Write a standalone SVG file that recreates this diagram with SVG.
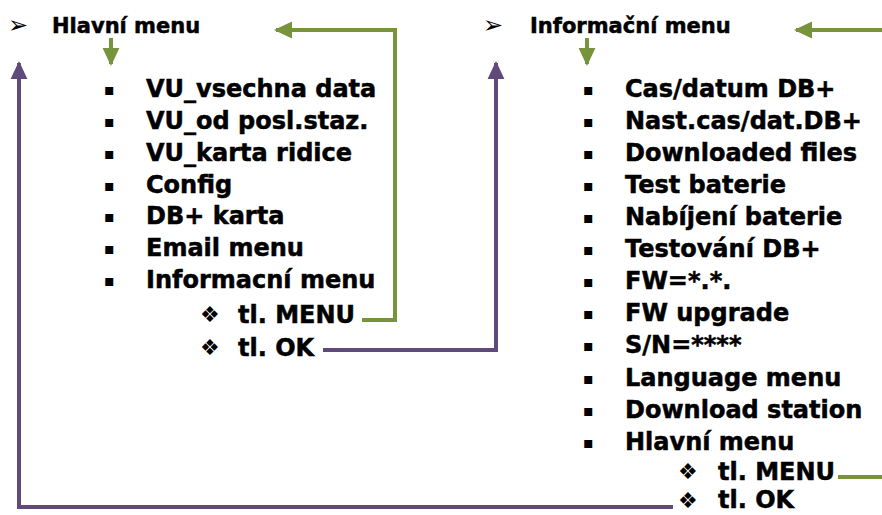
<svg xmlns="http://www.w3.org/2000/svg" width="882" height="515" viewBox="0 0 882 515">
<style>
.t{font-family:"DejaVu Sans","Liberation Sans",sans-serif;font-weight:bold;fill:#000;stroke:#000;stroke-width:0.5}
.h{font-size:21px}
.i{font-size:24px}
.b{font-family:"DejaVu Sans",sans-serif;fill:#000;font-size:22px}
.a{font-family:"DejaVu Sans",sans-serif;fill:#000;font-size:24px}
.sq{font-family:"DejaVu Sans",sans-serif;fill:#000;font-size:16px}
.g{fill:none;stroke:#77933C;stroke-width:4}
.p{fill:none;stroke:#604A7B;stroke-width:4}
</style>
<defs>
<marker id="ag" markerWidth="5" markerHeight="5" refX="4" refY="2.5" orient="auto" markerUnits="strokeWidth"><path d="M0,0.4 L4.5,2.5 L0,4.6 z" fill="#77933C"/></marker>
<marker id="ap" markerWidth="5" markerHeight="5" refX="4" refY="2.5" orient="auto" markerUnits="strokeWidth"><path d="M0,0.4 L4.5,2.5 L0,4.6 z" fill="#604A7B"/></marker>
</defs>
<g id="connectors">
<path class="g" d="M362,320 H395 V30 H276" marker-end="url(#ag)"/>
<path class="g" d="M111,38 V64" marker-end="url(#ag)"/>
<path class="g" d="M882,30 H796" marker-end="url(#ag)"/>
<path class="g" d="M587,38 V64" marker-end="url(#ag)"/>
<path class="g" d="M838,477 H882"/>
<path class="p" d="M323,350 H496 V63" marker-end="url(#ap)"/>
<path class="p" d="M673,507 H19 V63" marker-end="url(#ap)"/>
</g>
<g id="hlavni-menu">
<text class="a" x="8" y="33">➢</text>
<text class="t h" x="52" y="33">Hlavní menu</text>
</g>
<g id="hlavni-items">
<text class="sq" x="104" y="95">▪</text><text class="t i" x="146" y="97">VU_vsechna data</text>
<text class="sq" x="104" y="127">▪</text><text class="t i" x="146" y="129">VU_od posl.staz.</text>
<text class="sq" x="104" y="159">▪</text><text class="t i" x="146" y="161">VU_karta ridice</text>
<text class="sq" x="104" y="191">▪</text><text class="t i" x="146" y="193">Config</text>
<text class="sq" x="104" y="222">▪</text><text class="t i" x="146" y="224">DB+ karta</text>
<text class="sq" x="104" y="254">▪</text><text class="t i" x="146" y="256">Email menu</text>
<text class="sq" x="104" y="286">▪</text><text class="t i" x="146" y="288">Informacní menu</text>
</g>
<g id="hlavni-keys">
<text class="b" x="200" y="322">❖</text><text class="t i" x="238" y="323">tl. MENU</text>
<text class="b" x="200" y="355">❖</text><text class="t i" x="238" y="356">tl. OK</text>
</g>
<g id="informacni-menu">
<text class="a" x="483" y="33">➢</text>
<text class="t h" x="530" y="33">Informační menu</text>
</g>
<g id="informacni-items">
<text class="sq" x="583" y="95">▪</text><text class="t i" x="625" y="97">Cas/datum DB+</text>
<text class="sq" x="583" y="127">▪</text><text class="t i" x="625" y="129">Nast.cas/dat.DB+</text>
<text class="sq" x="583" y="159">▪</text><text class="t i" x="625" y="161">Downloaded files</text>
<text class="sq" x="583" y="191">▪</text><text class="t i" x="625" y="193">Test baterie</text>
<text class="sq" x="583" y="223">▪</text><text class="t i" x="625" y="225">Nabíjení baterie</text>
<text class="sq" x="583" y="255">▪</text><text class="t i" x="625" y="257">Testování DB+</text>
<text class="sq" x="583" y="287">▪</text><text class="t i" x="625" y="289">FW=*.*.</text>
<text class="sq" x="583" y="319">▪</text><text class="t i" x="625" y="321">FW upgrade</text>
<text class="sq" x="583" y="351">▪</text><text class="t i" x="625" y="353">S/N=****</text>
<text class="sq" x="583" y="384">▪</text><text class="t i" x="625" y="386">Language menu</text>
<text class="sq" x="583" y="416">▪</text><text class="t i" x="625" y="418">Download station</text>
<text class="sq" x="583" y="448">▪</text><text class="t i" x="625" y="450">Hlavní menu</text>
</g>
<g id="informacni-keys">
<text class="b" x="678" y="479">❖</text><text class="t i" x="718" y="480">tl. MENU</text>
<text class="b" x="678" y="508">❖</text><text class="t i" x="718" y="508">tl. OK</text>
</g>
</svg>
